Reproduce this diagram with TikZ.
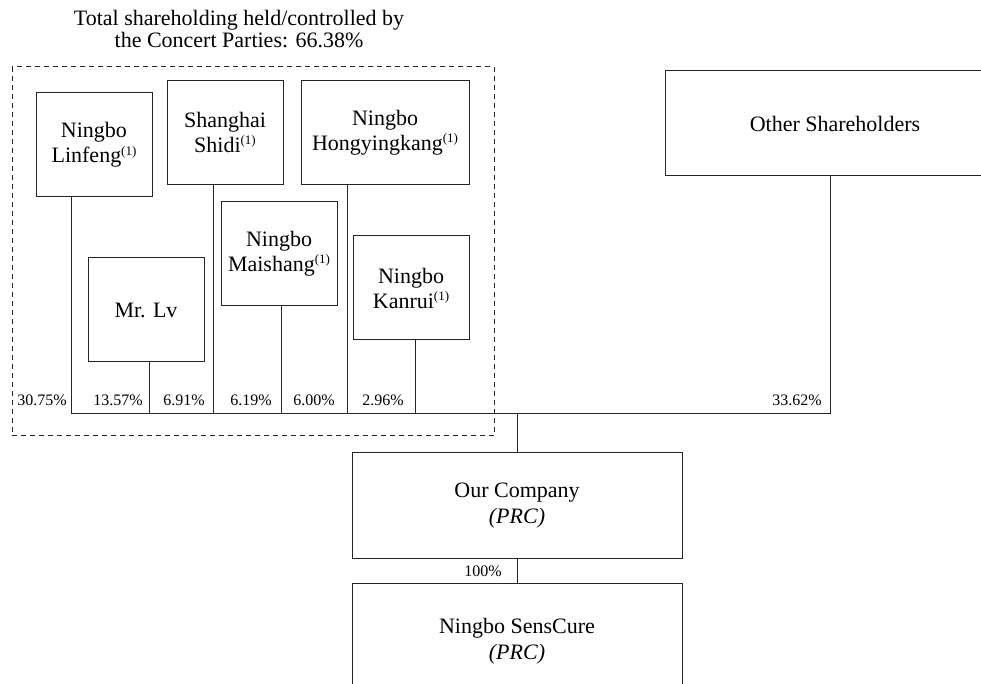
\documentclass[tikz,border=0pt]{standalone}
\usepackage{fontspec}
\setmainfont{Liberation Serif}
\newcommand{\fnmark}{\raisebox{.75ex}{\fontsize{6.5}{7}\selectfont(1)}}

\begin{document}
\begin{tikzpicture}[
    x=0.5pt, y=-0.5pt,
    entity/.style={draw=black!85, line width=.5pt, align=center, inner sep=0pt, font=\fontsize{11}{12.5}\selectfont},
    smallbox/.style={entity, minimum width=58pt, minimum height=52pt},
    widebox/.style={entity, minimum width=165pt, minimum height=52.5pt, font=\fontsize{11}{13}\selectfont},
    share/.style={anchor=east, inner sep=0pt, font=\fontsize{8}{9}\selectfont},
    link/.style={draw=black!85, line width=.5pt},
    group/.style={draw=black!85, dash pattern=on 2.5pt off 2pt, line width=.5pt}
    ]
    \clip (0,0) rectangle (981,684);

    % concert parties
    \node [align=center, font=\fontsize{11}{11}\selectfont] (title) at (239,29) {Total shareholding held/controlled by\\the Concert Parties: 66.38\%};
    \draw [group] (12,67) rectangle (494,436);

    \node [smallbox] (linfeng) at (94,145) {Ningbo\\Linfeng\fnmark};
    \node [smallbox] (shidi) at (225,132.5) {Shanghai\\Shidi\fnmark};
    \node [smallbox, minimum width=84pt] (hongying) at (385,132.5) {Ningbo\\Hongyingkang\fnmark};
    \node [smallbox] (maishang) at (279,253.5) {Ningbo\\Maishang\fnmark};
    \node [smallbox] (lv) at (146,310) {Mr. Lv};
    \node [smallbox] (kanrui) at (411,288) {Ningbo\\Kanrui\fnmark};

    \node [widebox, minimum width=170pt] (others) at (835,123.5) {Other Shareholders};
    \node [widebox] (company) at (517,505.5) {Our Company\\\textit{(PRC)}};
    \node [widebox, minimum height=58.5pt] (senscure) at (517,641.5) {Ningbo SensCure\\\textit{(PRC)}};

    % bus
    \coordinate (bA) at (71,414);
    \coordinate (bB) at (149,414);
    \coordinate (bC) at (213,414);
    \coordinate (bD) at (281,414);
    \coordinate (bE) at (347,414);
    \coordinate (bF) at (415,414);
    \coordinate (bG) at (830,414);
    \coordinate (bus) at (517,414);

    \draw [link] (bA) -- (bG);
    \draw [link] (bA) -- (bA |- linfeng.south);
    \draw [link] (bB) -- (bB |- lv.south);
    \draw [link] (bC) -- (bC |- shidi.south);
    \draw [link] (bD) -- (bD |- maishang.south);
    \draw [link] (bE) -- (bE |- hongying.south);
    \draw [link] (bF) -- (bF |- kanrui.south);
    \draw [link] (bG) -- (bG |- others.south);
    \draw [link] (bus) -- (company.north);
    \draw [link] (company.south) -- (senscure.north);

    \node [share] (pA) at (67,400) {30.75\%};
    \node [share] (pB) at (143,400) {13.57\%};
    \node [share] (pC) at (205,400) {6.91\%};
    \node [share] (pD) at (272,400) {6.19\%};
    \node [share] (pE) at (335,400) {6.00\%};
    \node [share] (pF) at (404,400) {2.96\%};
    \node [share] (pG) at (822,400) {33.62\%};
    \node [share] (pH) at (502,571) {100\%};
\end{tikzpicture}
\end{document}
